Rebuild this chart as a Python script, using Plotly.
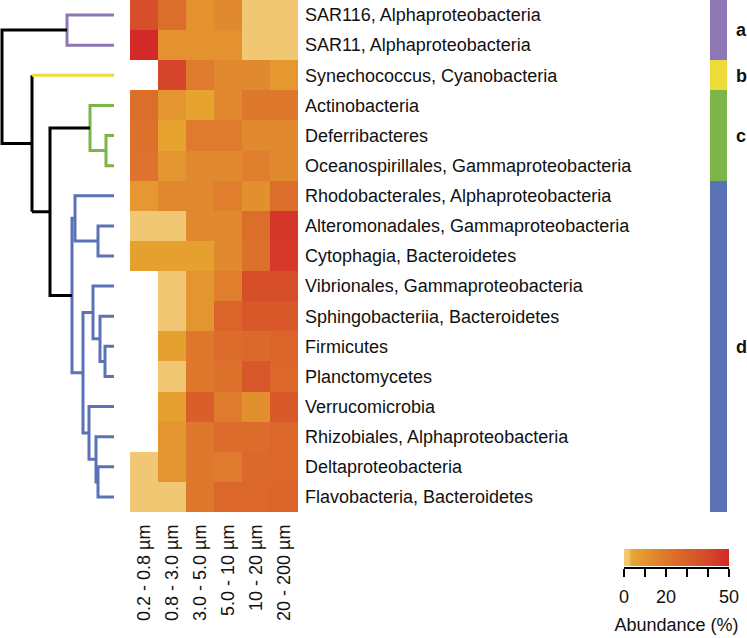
import plotly.graph_objects as go

# ---------------- data ----------------
taxa = [
    "SAR116, Alphaproteobacteria",
    "SAR11, Alphaproteobacteria",
    "Synechococcus, Cyanobacteria",
    "Actinobacteria",
    "Deferribacteres",
    "Oceanospirillales, Gammaproteobacteria",
    "Rhodobacterales, Alphaproteobacteria",
    "Alteromonadales, Gammaproteobacteria",
    "Cytophagia, Bacteroidetes",
    "Vibrionales, Gammaproteobacteria",
    "Sphingobacteriia, Bacteroidetes",
    "Firmicutes",
    "Planctomycetes",
    "Verrucomicrobia",
    "Rhizobiales, Alphaproteobacteria",
    "Deltaproteobacteria",
    "Flavobacteria, Bacteroidetes",
]
size_fractions = ["0.2 - 0.8 µm", "0.8 - 3.0 µm", "3.0 - 5.0 µm",
                  "5.0 - 10 µm", "10 - 20 µm", "20 - 200 µm"]

abundance = [
    [37, 24, 11, 14, 1, 1],
    [50, 11, 11, 11, 1, 1],
    [None, 41, 19, 14, 14, 9],
    [24, 10, 5, 14, 20, 20],
    [23, 5, 19, 19, 14, 14],
    [22, 10, 14, 14, 18, 14],
    [9, 15, 15, 18, 12, 24],
    [1, 1, 14, 15, 24, 46],
    [6, 6, 6, 14, 23, 45],
    [None, 1, 10, 18, 38, 38],
    [None, 1, 10, 28, 33, 33],
    [None, 6, 20, 25, 26, 28],
    [None, 1, 20, 23, 34, 27],
    [None, 6, 30, 19, 12, 33],
    [None, 10, 20, 25, 25, 27],
    [1, 10, 20, 19, 26, 27],
    [1, 1, 20, 27, 27, 28],
]

cluster_of_taxon = ["a", "a", "b", "c", "c", "c",
                    "d", "d", "d", "d", "d", "d", "d", "d", "d", "d", "d"]
cluster_names = ["a", "b", "c", "d"]

# linkage: node ids 0..16 are leaves, merges create ids 17, 18, ...
merge_left = [0, 4, 3, 7, 6, 11, 10, 9, 15, 14, 13, 24, 21, 19, 2, 17]
merge_right = [1, 5, 18, 8, 20, 12, 22, 23, 16, 25, 26, 27, 28, 29, 30, 31]
merge_height = [47, 8, 24, 16, 39, 9, 14, 21, 16, 18, 25, 31, 42, 64, 82, 112]

colorbar_ticks = [0, 10, 20, 30, 40, 50]
colorbar_ticktext = ["0", "", "20", "", "", "50"]

# ---------------- styles ----------------
W, H = 747, 638
FONT = "Liberation Sans, Arial, Helvetica, sans-serif"
cluster_colors = {"a": "#8F77B5", "b": "#EDDB3A", "c": "#7CB54A", "d": "#5B72B6"}
colorscale = [
    [0.0, "#F3CB7A"], [0.05, "#F0C26C"], [0.07, "#E8A72F"],
    [0.2, "#E3952F"], [0.4, "#DE782C"], [0.6, "#D95F2A"],
    [0.8, "#D5482A"], [1.0, "#D32A29"],
]

def px_x(p):
    return p / W

def px_y(p):
    return 1 - p / H

hm_xdom = [px_x(130), px_x(298)]
hm_ydom = [px_y(512), 1.0]
n = len(taxa)
yrange = [n - 0.5, -0.5]

fig = go.Figure()

# ---------------- heatmap ----------------
fig.add_trace(go.Heatmap(
    z=abundance, x=list(range(len(size_fractions))), y=list(range(n)),
    colorscale=colorscale, zmin=0, zmax=50, hoverongaps=False,
    xaxis="x", yaxis="y",
    colorbar=dict(
        orientation="h", x=px_x(676.5), xanchor="center",
        len=105 / W, lenmode="fraction", thickness=17, thicknessmode="pixels",
        y=px_y(549), yanchor="top", xpad=0, ypad=0,
        outlinewidth=0, ticks="", showticklabels=False,
    ),
))

# ---------------- dendrogram ----------------
n_leaves = n
pos = {i: float(i) for i in range(n_leaves)}
hgt = {i: 0.0 for i in range(n_leaves)}
leaves = {i: [i] for i in range(n_leaves)}
segments = {}  # color -> list of polylines

def node_color(nid):
    cl = set(cluster_of_taxon[l] for l in leaves[nid])
    return cluster_colors[cl.pop()] if len(cl) == 1 else "#000000"

def add_seg(color, pts):
    segments.setdefault(color, []).append(pts)

for k, (l, r, h) in enumerate(zip(merge_left, merge_right, merge_height)):
    nid = n_leaves + k
    leaves[nid] = leaves[l] + leaves[r]
    pos[nid] = (pos[l] + pos[r]) / 2
    hgt[nid] = h
    c_node = node_color(nid)
    c_l = node_color(l) if l < n_leaves else c_node
    c_r = node_color(r) if r < n_leaves else c_node
    if c_l == c_node == c_r:
        add_seg(c_node, [(hgt[l], pos[l]), (h, pos[l]), (h, pos[r]), (hgt[r], pos[r])])
    else:
        add_seg(c_l, [(hgt[l], pos[l]), (h, pos[l])])
        add_seg(c_node, [(h, pos[l]), (h, pos[r])])
        add_seg(c_r, [(h, pos[r]), (hgt[r], pos[r])])

for color, polys in segments.items():
    xs, ys = [], []
    for poly in polys:
        for (a, b) in poly:
            xs.append(a)
            ys.append(b)
        xs.append(None)
        ys.append(None)
    fig.add_trace(go.Scatter(
        x=xs, y=ys, mode="lines", xaxis="x2", yaxis="y2",
        line=dict(color=color, width=3), hoverinfo="skip", showlegend=False,
    ))

# ---------------- cluster bar ----------------
cl_idx = [cluster_names.index(c) for c in cluster_of_taxon]
cl_scale = []
m = len(cluster_names)
for i, c in enumerate(cluster_names):
    cl_scale.append([i / m, cluster_colors[c]])
    cl_scale.append([(i + 1) / m, cluster_colors[c]])
fig.add_trace(go.Heatmap(
    z=[[v] for v in cl_idx], x=[0], y=list(range(n)),
    colorscale=cl_scale, zmin=-0.5, zmax=m - 0.5, showscale=False,
    xaxis="x4", yaxis="y4", hoverinfo="skip",
))
cl_centers = []
for c in cluster_names:
    rows = [i for i, cc in enumerate(cluster_of_taxon) if cc == c]
    cl_centers.append(sum(rows) / len(rows))

# empty trace for colorbar axis
fig.add_trace(go.Scatter(x=[], y=[], xaxis="x3", yaxis="y3",
                         showlegend=False, hoverinfo="skip"))

FS = 18
tickfont = dict(family=FONT, size=FS, color="#111111")

fig.update_layout(
    width=W, height=H, margin=dict(l=0, r=0, t=0, b=0, autoexpand=False),
    paper_bgcolor="white", plot_bgcolor="white", showlegend=False,
    font=dict(family=FONT, size=FS, color="#111111"),
    xaxis=dict(domain=hm_xdom, anchor="y", range=[-0.5, 5.5],
               tickvals=list(range(len(size_fractions))), ticktext=size_fractions,
               tickangle=-90, ticks="", showgrid=False, zeroline=False,
               showline=False, tickfont=tickfont, ticklabelstandoff=8),
    yaxis=dict(domain=hm_ydom, anchor="x", range=yrange, side="right",
               tickvals=list(range(n)), ticktext=taxa, ticks="",
               showgrid=False, zeroline=False, showline=False,
               tickfont=tickfont, ticklabelstandoff=6),
    xaxis2=dict(domain=[0, px_x(114)], anchor="y2", range=[114, 0],
                visible=False),
    yaxis2=dict(domain=hm_ydom, anchor="x2", range=yrange, visible=False),
    xaxis3=dict(domain=[px_x(624), px_x(729)], anchor="y3", range=[0, 50],
                showline=True, linewidth=2, linecolor="black",
                ticks="outside", ticklen=8, tickwidth=2, tickcolor="black",
                tickvals=colorbar_ticks, ticktext=colorbar_ticktext,
                showgrid=False, zeroline=False, tickfont=tickfont,
                ticklabelstandoff=4,
                title=dict(text="Abundance (%)", font=tickfont, standoff=13)),
    yaxis3=dict(domain=[px_y(567), px_y(560)], anchor="x3", visible=False,
                range=[0, 1]),
    xaxis4=dict(domain=[px_x(710), px_x(727)], anchor="y4", range=[-0.5, 0.5],
                visible=False),
    yaxis4=dict(domain=hm_ydom, anchor="x4", range=yrange, side="right",
                tickvals=cl_centers,
                ticktext=["<b>%s</b>" % c for c in cluster_names],
                ticks="", showgrid=False, zeroline=False, showline=False,
                tickfont=tickfont, ticklabelstandoff=8),
)

fig.write_html("out.html",
               config={"displayModeBar": False},
               post_script="document.body.style.margin='0';"
                           "document.body.style.overflow='hidden';")
